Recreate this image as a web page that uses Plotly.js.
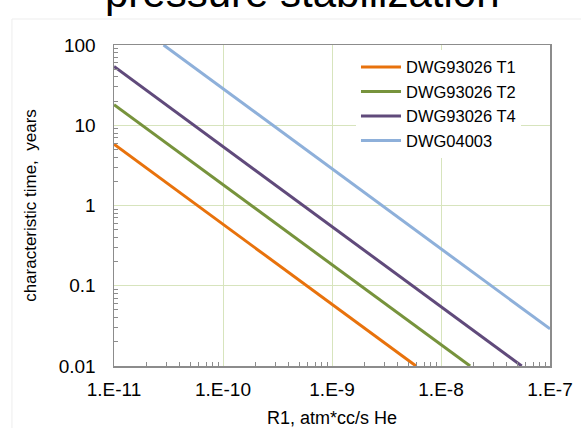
<!DOCTYPE html>
<html>
<head>
<meta charset="utf-8">
<script src="https://cdn.plot.ly/plotly-3.0.1.min.js"></script>
<style>html,body{margin:0;padding:0;background:#fff;}#chart{width:581px;height:428px;}</style>
</head>
<body>
<div id="chart"></div>
<script>
// Series endpoints (straight lines on log-log axes)
const seriesNames = ["DWG93026 T1", "DWG93026 T2", "DWG93026 T4", "DWG04003"];
const xT1 = [1e-11, 5.9e-9];
const yT1 = [5.8, 0.01];
const xT2 = [1e-11, 1.85e-8];
const yT2 = [18, 0.01];
const xT4 = [1e-11, 5.5e-8];
const yT4 = [54, 0.01];
const x04 = [2.85e-11, 1e-7];
const y04 = [100, 0.029];
const colors = ["#E8720C", "#77933C", "#604A7B", "#8EB0DA"];

const xTickVals = [1e-11, 1e-10, 1e-9, 1e-8, 1e-7];
const xTickText = ["1.E-11", "1.E-10", "1.E-9", "1.E-8", "1.E-7"];
const yTickVals = [0.01, 0.1, 1, 10, 100];
const yTickText = ["0.01", "0.1", "1", "10", "100"];

// minor tick positions (2..9 within each decade)
function minorTicks(d0, d1) {
  const out = [];
  for (let d = d0; d < d1; d++) for (let k = 2; k <= 9; k++) out.push(k * Math.pow(10, d));
  return out;
}

const xs = [xT1, xT2, xT4, x04];
const ys = [yT1, yT2, yT4, y04];
const traces = xs.map((x, i) => ({
  x: x, y: ys[i], type: "scatter", mode: "lines", name: seriesNames[i],
  line: {color: colors[i], width: 3}
}));

const fontFam = "Liberation Sans, Arial, sans-serif";
const layout = {
  width: 581, height: 428,
  margin: {l: 114, r: 31, t: 45, b: 62},
  paper_bgcolor: "#ffffff", plot_bgcolor: "#ffffff",
  font: {family: fontFam, color: "#000"},
  showlegend: true,
  legend: {x: 0.555, y: 0.985, xanchor: "left", yanchor: "top", bgcolor: "#ffffff",
           font: {size: 16.5, family: fontFam}, tracegroupgap: 0, itemwidth: 40},
  xaxis: {
    type: "log", range: [-11, -7], tickmode: "array", tickvals: xTickVals, ticktext: xTickText,
    tickfont: {size: 19}, showgrid: true, gridcolor: "#D7E4BD", gridwidth: 1,
    showline: true, linecolor: "#8C8C8C", linewidth: 1.5, mirror: true,
    ticks: "", ticklabelstandoff: 6,
    minor: {tickmode: "array", tickvals: minorTicks(-11, -7), ticks: "inside", ticklen: 4,
            tickcolor: "#8C8C8C", showgrid: false},
    zeroline: false,
    title: {text: "R1, atm*cc/s He", font: {size: 18}, standoff: 16}
  },
  yaxis: {
    type: "log", range: [-2, 2], tickmode: "array", tickvals: yTickVals, ticktext: yTickText,
    tickfont: {size: 19}, showgrid: true, gridcolor: "#D7E4BD", gridwidth: 1,
    showline: true, linecolor: "#8C8C8C", linewidth: 1.5, mirror: true,
    ticks: "", ticklabelstandoff: 13,
    minor: {tickmode: "array", tickvals: minorTicks(-2, 2), ticks: "inside", ticklen: 4,
            tickcolor: "#8C8C8C", showgrid: false},
    zeroline: false,
    title: {text: "characteristic time,  years", font: {size: 17}, standoff: 18}
  },
  annotations: [
    {text: "pressure stabilization", xref: "paper", yref: "paper", x: 0.433, y: 1.162,
     xanchor: "center", yanchor: "middle", showarrow: false,
     font: {size: 42, family: fontFam, color: "#000"}}
  ],
  shapes: [
    {type: "line", xref: "paper", yref: "paper", x0: -0.234, x1: 1.2, y0: 1.081, y1: 1.081,
     line: {color: "#EDEDED", width: 1}},
    {type: "line", xref: "paper", yref: "paper", x0: -0.234, x1: -0.234, y0: 1.081, y1: -0.3,
     line: {color: "#EDEDED", width: 1}}
  ]
};

Plotly.newPlot("chart", traces, layout, {displayModeBar: false, staticPlot: true});
</script>
</body>
</html>
